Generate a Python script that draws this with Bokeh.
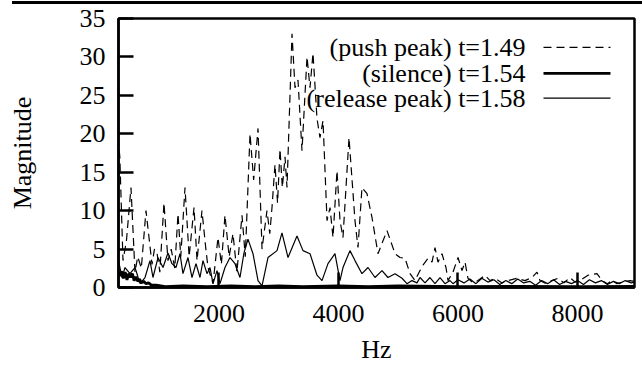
from bokeh.plotting import figure
from bokeh.models import Range1d, FixedTicker, Div
from bokeh.layouts import column
from bokeh.core.properties import value
from bokeh.embed import file_html
from bokeh.resources import INLINE

# ---------------- data ----------------
push_hz = [310, 340, 393, 450, 527, 594, 640, 700, 778, 879, 920, 962, 1010, 1079, 1146, 1200,
           1260, 1314, 1360, 1431, 1500, 1582, 1632, 1715, 1780, 1816, 1900, 1983, 2040, 2100,
           2170, 2234, 2300, 2385, 2440, 2519, 2580, 2653, 2720, 2803, 2850, 2887, 2937, 2980,
           3021, 3060, 3105, 3138, 3222, 3272, 3322, 3389, 3473, 3523, 3573, 3640, 3690, 3741,
           3808, 3858, 3908, 3975, 4025, 4075, 4176, 4276, 4326, 4393, 4477, 4561, 4661, 4812,
           4946, 5029, 5113, 5197, 5280, 5364, 5414, 5498, 5565, 5615, 5665, 5732, 5799, 5833,
           5916, 6000, 6067, 6117, 6167, 6251, 6335, 6452, 6536, 6619, 6736, 6837, 6987, 7121,
           7238, 7322, 7372, 7473, 7573, 7674, 7774, 7874, 7960, 8042, 8176, 8326, 8410, 8500,
           8577, 8660, 8745, 8879, 8954]
push_mag = [19.5, 17, 3.5, 6, 13, 2, 4, 2.5, 10, 3, 5, 4.5, 2, 11, 3.5, 5,
            2.5, 9.6, 4, 13, 4, 10.4, 3.5, 10, 5, 2.6, 0.5, 6.5, 3, 9.4,
            4, 7, 2, 9.4, 4, 20, 14, 20.7, 5, 10, 7, 10.4, 16, 11,
            18, 13, 17, 13, 33, 26, 27, 17.8, 30, 26, 30.5, 22, 19.5, 21.7,
            8.7, 10.4, 6.5, 15.2, 8.7, 6.5, 19.5, 8.7, 5.2, 13, 12.2, 9.1, 4.4, 7.4,
            4.4, 3.9, 3.8, 1.8, 0.9, 2.2, 2.9, 3.8, 3.3, 5.2, 3.3, 4.4, 2.6, 0.9,
            2.0, 3.9, 2.2, 3.3, 1.2, 0.6, 0.9, 1.6, 0.9, 1.2, 0.6, 0.9, 1.2, 0.9,
            1.3, 2.0, 0.9, 0.5, 0.9, 1.2, 0.6, 1.3, 0.7, 0.9, 1.6, 1.8, 0.9, 0.5,
            0.9, 0.5, 0.7, 0.9, 0.8]

silence_hz = [318, 340, 370, 400, 430, 460, 490, 520, 550, 580, 610, 640, 670, 700, 740, 780,
              820, 870, 950, 1100, 1400, 1800, 2200, 2600, 3000, 3400, 4000, 4500, 5000, 6000,
              7000, 8000, 8954]
silence_mag = [2.0, 1.5, 2.1, 1.2, 2.0, 1.0, 1.8, 1.3, 1.8, 0.9, 1.4, 0.8, 1.1, 0.6, 0.8, 0.5,
               0.6, 0.3, 0.3, 0.1, 0.2, 0.1, 0.2, 0.1, 0.2, 0.1, 0.2, 0.1, 0.2, 0.1,
               0.15, 0.1, 0.15]

release_hz = [318, 377, 427, 510, 594, 678, 762, 845, 895, 979, 1063, 1146, 1213, 1280, 1347,
              1397, 1481, 1548, 1615, 1682, 1732, 1799, 1849, 1900, 1967, 2017, 2100, 2184, 2268,
              2351, 2418, 2485, 2569, 2653, 2720, 2820, 2971, 3054, 3155, 3305, 3406, 3523, 3640,
              3724, 3824, 3941, 4025, 4075, 4192, 4276, 4393, 4494, 4611, 4728, 4828, 4946, 5063,
              5146, 5230, 5314, 5364, 5448, 5531, 5615, 5699, 5782, 5866, 5916, 6000, 6100, 6200,
              6300, 6400, 6500, 6600, 6700, 6800, 6900, 7000, 7100, 7200, 7300, 7400, 7500, 7600,
              7700, 7800, 7900, 8000, 8100, 8200, 8300, 8400, 8500, 8600, 8700, 8800, 8900, 8954]
release_mag = [3.5, 1.3, 2.6, 1.8, 2.6, 0.5, 1.3, 3.5, 1.3, 3.9, 2.6, 4.5, 3.1, 2.6, 4.4,
               1.8, 3.9, 1.3, 3.1, 1.3, 3.5, 1.8, 2.6, 0.5, 2.2, 0.5, 2.6, 3.9, 3.1,
               1.3, 4.5, 6.3, 4.4, 0.9, 0.2, 3.9, 4.8, 7.1, 3.9, 6.7, 4.8, 4.4, 1.6,
               0.9, 3.1, 4.4, 0.9, 2.6, 4.8, 3.5, 1.8, 2.6, 1.3, 2.2, 1.3, 1.8, 1.2,
               0.5, 0.9, 0.6, 1.3, 0.6, 1.3, 0.5, 1.3, 0.5, 0.9, 0.5, 1.0, 0.6, 1.1,
               0.5, 1.2, 0.7, 1.0, 0.4, 0.9, 0.5, 1.1, 0.6, 0.8, 0.3, 0.9, 0.5, 1.0,
               0.4, 0.8, 0.5, 0.9, 0.4, 1.0, 0.6, 0.9, 0.4, 0.8, 0.5, 0.9, 0.6, 0.7]

legend_labels = ["(push peak) t=1.49", "(silence) t=1.54", "(release peak) t=1.58"]
x_ticks = [2000, 4000, 6000, 8000]
y_ticks = [0, 5, 10, 15, 20, 25, 30, 35]

# ---------------- layout / style ----------------
FONT = "Liberation Serif"
FS = "26px"
X_START, X_END = 318, 8954
Y_START, Y_END = 0, 35

RULE_TOP, RULE_H = 1, 3
FIG_H = 366 - RULE_TOP - RULE_H

rule = Div(text="", width=630, height=RULE_H, margin=(RULE_TOP, 0, 0, 12),
           styles={"background-color": "black"})

p = figure(width=642, height=FIG_H, output_backend="svg", toolbar_location=None,
           x_range=Range1d(X_START, X_END), y_range=Range1d(Y_START, Y_END))
p.min_border_left = 118
p.min_border_right = 8
p.min_border_top = 18 - RULE_TOP - RULE_H
p.min_border_bottom = 78
p.margin = (0, 0, 0, 0)
p.grid.visible = False
p.background_fill_color = "white"
p.border_fill_color = "white"
p.outline_line_color = "black"
p.outline_line_width = 2.5

for ax in (p.xaxis[0], p.yaxis[0]):
    ax.axis_line_width = 2.5
    ax.major_tick_line_width = 2.5
    ax.major_tick_in = 15
    ax.major_tick_out = 0
    ax.minor_tick_line_color = None
    ax.major_label_text_font = FONT
    ax.major_label_text_font_size = FS
    ax.major_label_text_color = "black"
    ax.axis_label_text_font = FONT
    ax.axis_label_text_font_size = FS
    ax.axis_label_text_font_style = "normal"
    ax.axis_label_text_color = "black"

p.xaxis.ticker = FixedTicker(ticks=x_ticks)
p.yaxis.ticker = FixedTicker(ticks=y_ticks)
p.xaxis.axis_label = "Hz"
p.yaxis.axis_label = "Magnitude"
p.xaxis.major_label_standoff = 17
p.xaxis.axis_label_standoff = 10
p.yaxis.major_label_standoff = 13
p.yaxis.axis_label_standoff = 40

# series
p.line(push_hz, push_mag, line_color="black", line_width=1.2, line_dash="8 5")
p.line(silence_hz, silence_mag, line_color="black", line_width=2.8)
p.line(release_hz, release_mag, line_color="black", line_width=1.2)

# key (gnuplot style: text then sample line)
key_text_x = 7130
key_rows_y = [31.24, 27.87, 24.63]
key_line_x = [7431, 8552]
p.text(x=[key_text_x] * 3, y=key_rows_y, text=legend_labels, text_align="right",
       text_baseline="middle", text_font=value(FONT), text_font_size=value(FS),
       text_color="black")
p.line(key_line_x, [key_rows_y[0]] * 2, line_color="black", line_width=1.2, line_dash="8 5")
p.line(key_line_x, [key_rows_y[1]] * 2, line_color="black", line_width=2.8)
p.line(key_line_x, [key_rows_y[2]] * 2, line_color="black", line_width=1.2)

layout = column(rule, p, spacing=0, margin=(0, 0, 0, 0))
open("out.html", "w").write(file_html(layout, INLINE))
